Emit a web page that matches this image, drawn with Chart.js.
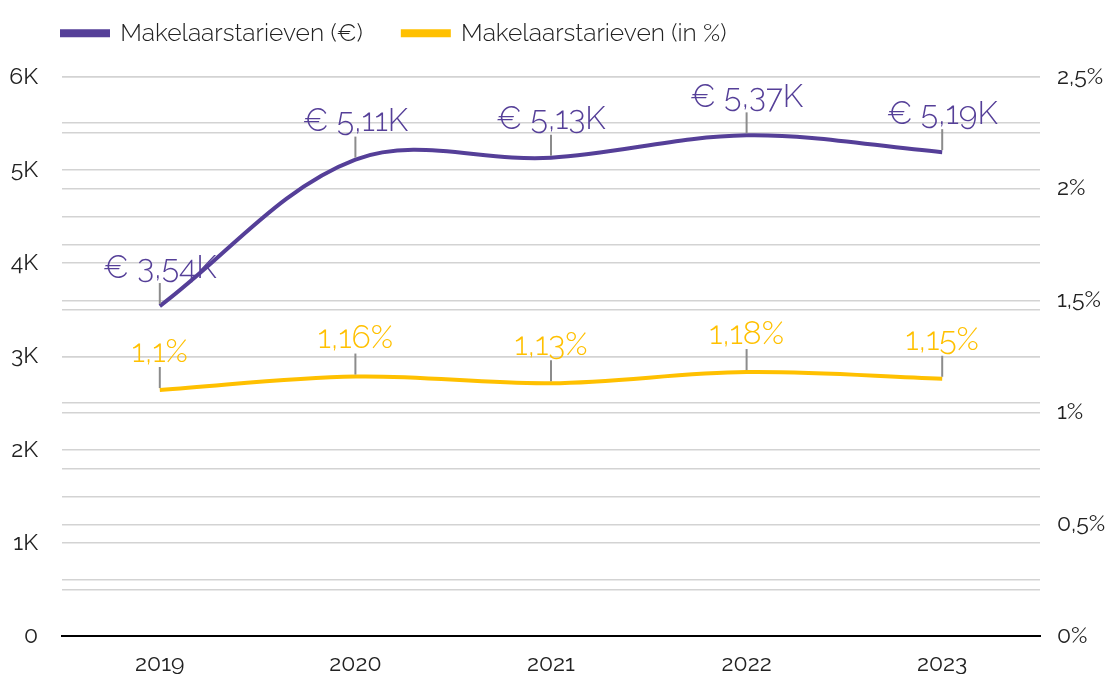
<!DOCTYPE html>
<html>
<head>
<meta charset="utf-8">
<script src="https://cdn.jsdelivr.net/npm/chart.js@4.4.1/dist/chart.umd.min.js"></script>
<style>
  body { margin: 0; background: #fff; }
  #wrap { width: 1108px; height: 674px; position: relative; }
</style>
</head>
<body>
<div id="wrap"><canvas id="rates"></canvas></div>
<script>
// Data
const years = ['2019', '2020', '2021', '2022', '2023'];
const euroRates = [3540, 5110, 5130, 5370, 5190];   // Makelaarstarieven (€)
const pctRates = [1.1, 1.16, 1.13, 1.18, 1.15];     // Makelaarstarieven (in %)

const PURPLE = '#553f98';
const YELLOW = '#ffc000';
const FONT = 'Raleway, Lato, "Open Sans", sans-serif';

function fmtEuro(v) {
    return '€ ' + (v / 1000).toFixed(2).replace('.', ',') + 'K';
}
function fmtPct(v) {
    return String(v).replace('.', ',') + '%';
}

// Labels above points with a small leader line
const pointLabels = {
    id: 'pointLabels',
    afterDatasetsDraw(chart) {
        const ctx = chart.ctx;
        chart.data.datasets.forEach((ds, i) => {
            const meta = chart.getDatasetMeta(i);
            meta.data.forEach((pt, j) => {
                ctx.save();
                ctx.strokeStyle = '#8c8c8c';
                ctx.lineWidth = 2;
                ctx.beginPath();
                ctx.moveTo(pt.x, pt.y - 2);
                ctx.lineTo(pt.x, pt.y - 23);
                ctx.stroke();
                ctx.fillStyle = ds.borderColor;
                ctx.font = '300 ' + ds.labelSize + 'px ' + FONT;
                ctx.textAlign = 'center';
                ctx.textBaseline = 'middle';
                ctx.fillText(ds.fmt(ds.data[j]), pt.x, pt.y - 38);
                ctx.restore();
            });
        });
    }
};

// nudge the legend so it lines up with the plot's left edge and sits higher
const legendShift = {
    id: 'legendShift',
    afterLayout(chart) {
        chart.legend.left += 22;
        chart.legend.top -= 21;
    }
};

new Chart(document.getElementById('rates'), {
    type: 'line',
    data: {
        labels: years,
        datasets: [
            {
                label: 'Makelaarstarieven (€)',
                data: euroRates,
                borderColor: PURPLE,
                backgroundColor: PURPLE,
                borderWidth: 4,
                tension: 0.35,
                pointRadius: 0,
                yAxisID: 'y',
                labelSize: 32,
                fmt: fmtEuro
            },
            {
                label: 'Makelaarstarieven (in %)',
                data: pctRates,
                borderColor: YELLOW,
                backgroundColor: YELLOW,
                borderWidth: 4,
                tension: 0.35,
                pointRadius: 0,
                yAxisID: 'y1',
                labelSize: 32,
                fmt: fmtPct
            }
        ]
    },
    options: {
        responsive: true,
        maintainAspectRatio: false,
        animation: false,
        layout: { padding: { left: 0, right: 0, top: 2, bottom: -25 } },
        plugins: {
            legend: {
                position: 'top',
                align: 'start',
                labels: {
                    boxWidth: 46,
                    boxHeight: 4,
                    padding: 40,
                    color: '#222',
                    font: { family: FONT, size: 24.6, weight: '300' }
                }
            },
            tooltip: { enabled: false }
        },
        scales: {
            x: {
                offset: true,
                grid: { display: false, drawTicks: false },
                border: { display: true, color: '#000', width: 2 },
                ticks: {
                    padding: 14,
                    color: '#222',
                    font: { family: FONT, size: 23 }
                }
            },
            y: {
                position: 'left',
                min: 0,
                max: 6000,
                afterFit(scale) { scale.width = 62; },
                grid: { color: '#d3d3d3', lineWidth: 1.5, drawTicks: false },
                border: { display: false },
                ticks: {
                    stepSize: 500,
                    autoSkip: false,
                    padding: 24,
                    color: '#222',
                    font: { family: FONT, size: 23 },
                    callback: v => v % 1000 === 0 ? (v === 0 ? '0' : (v / 1000) + 'K') : ''
                }
            },
            y1: {
                position: 'right',
                min: 0,
                max: 2.5,
                afterFit(scale) { scale.width = 68; },
                grid: { color: '#d3d3d3', lineWidth: 1.5, drawTicks: false },
                border: { display: false },
                ticks: {
                    stepSize: 0.25,
                    autoSkip: false,
                    padding: 17,
                    color: '#222',
                    font: { family: FONT, size: 23 },
                    callback: v => Math.abs(v * 2 - Math.round(v * 2)) < 1e-9 ? fmtPct(v) : ''
                }
            }
        }
    },
    plugins: [pointLabels, legendShift]
});
</script>
</body>
</html>
